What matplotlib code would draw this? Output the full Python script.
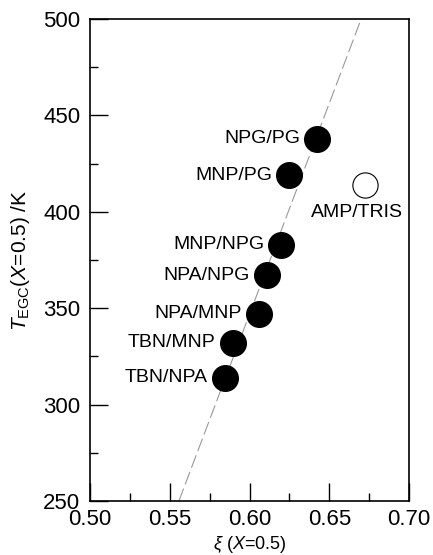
import matplotlib
matplotlib.use('Agg')
import matplotlib.pyplot as plt
from matplotlib.ticker import MultipleLocator

plt.rcParams['font.family'] = ['Liberation Sans', 'DejaVu Sans']
plt.rcParams['mathtext.fontset'] = 'custom'
plt.rcParams['mathtext.rm'] = 'Liberation Sans'
plt.rcParams['mathtext.it'] = 'Liberation Sans:italic'

# glass-forming pairs at X = 0.5
labels = ['NPG/PG', 'MNP/PG', 'MNP/NPG', 'NPA/NPG', 'NPA/MNP', 'TBN/MNP', 'TBN/NPA']
xi = [0.6425, 0.625, 0.620, 0.611, 0.606, 0.5895, 0.5845]
t_egc = [438, 419, 383, 367, 347, 332, 314]

# outlier (open symbol)
out_label = 'AMP/TRIS'
out_xi = 0.6725
out_t = 414

# guide line end points
line_xi = [0.5557, 0.670]
line_t = [250, 500]


def main():
    fig = plt.figure(figsize=(4.33, 5.55), dpi=100)
    ax = fig.add_axes([0.208, 0.0973, 0.7366, 0.8685])

    ax.plot(line_xi, line_t, color='#999999', lw=0.8, dashes=(12, 4), zorder=1)
    ax.scatter(xi, t_egc, s=340, color='black', zorder=3)
    ax.scatter([out_xi], [out_t], s=330, facecolor='white', edgecolor='black',
               linewidth=0.8, zorder=3)

    for lab, x, y in zip(labels, xi, t_egc):
        ax.annotate(lab, (x, y), xytext=(-12.5, 0), textcoords='offset points',
                    ha='right', va='center', fontsize=14)
    ax.annotate(out_label, (out_xi, out_t), xytext=(-6, -20), textcoords='offset points',
                ha='center', va='center', fontsize=14)

    ax.set_xlim(0.50, 0.70)
    ax.set_ylim(250, 500)
    ax.xaxis.set_major_locator(MultipleLocator(0.05))
    ax.xaxis.set_minor_locator(MultipleLocator(0.025))
    ax.yaxis.set_major_locator(MultipleLocator(50))
    ax.yaxis.set_minor_locator(MultipleLocator(25))
    ax.set_xticklabels([f'{v:.2f}' for v in ax.get_xticks()])
    ax.tick_params(which='both', direction='in', top=False, right=False,
                   labelsize=16, width=1)
    ax.tick_params(axis='x', which='major', length=13, pad=6)
    ax.tick_params(axis='y', which='major', length=13, pad=7)
    ax.tick_params(which='minor', length=6)
    for sp in ax.spines.values():
        sp.set_linewidth(1.2)

    ax.set_xlabel(r'$\xi$ ($X$=0.5)', fontsize=13, labelpad=3)
    ax.set_ylabel(r'$T_{\mathrm{EGC}}$($X$=0.5) /K', fontsize=15, labelpad=8)

    fig.savefig('out.png', dpi=100)


if __name__ == '__main__':
    main()
